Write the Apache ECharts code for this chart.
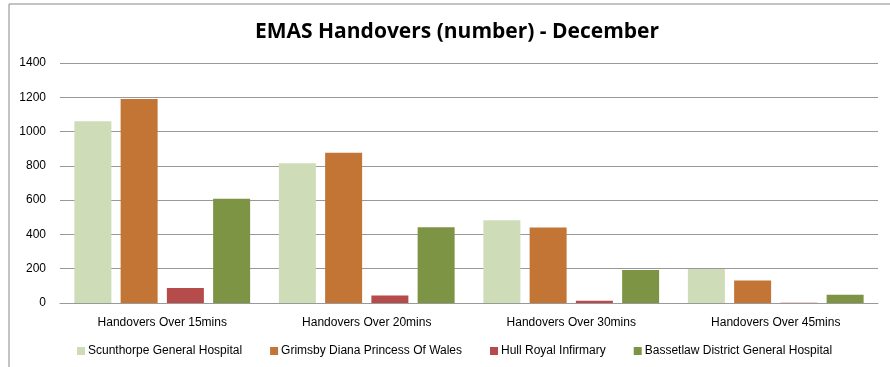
<!DOCTYPE html>
<html><head><meta charset="utf-8">
<script src="https://cdn.jsdelivr.net/npm/echarts@6/dist/echarts.min.js"></script>
<style>html,body{margin:0;padding:0;background:#fff}#c{width:890px;height:367px}</style>
</head><body><div id="c"></div>
<script>
const categories = ['Handovers Over 15mins','Handovers Over 20mins','Handovers Over 30mins','Handovers Over 45mins'];
const seriesNames = ['Scunthorpe General Hospital','Grimsby Diana Princess Of Wales','Hull Royal Infirmary','Bassetlaw District General Hospital'];
const scunthorpe = [1060, 815, 483, 199];
const grimsby = [1190, 877, 440, 131];
const hull = [87, 44, 13, 2];
const bassetlaw = [608, 442, 192, 48];
const yTicks = [0, 200, 400, 600, 800, 1000, 1200, 1400];
const colors = ['#CFDCB8', '#C27535', '#B54B4A', '#7C9443'];
const values = [scunthorpe, grimsby, hull, bassetlaw];

const chart = echarts.init(document.getElementById('c'));
const font = 'Liberation Sans';
chart.setOption({
  animation: false,
  title: {
    text: 'EMAS Handovers (number) - December',
    left: 452, top: 17, textAlign: 'center',
    textStyle: { fontFamily: 'Open Sans', fontWeight: 'bold', fontSize: 21, color: '#000' }
  },
  graphic: [{
    type: 'rect', shape: { x: 9, y: 4, width: 900, height: 400 },
    style: { fill: 'none', stroke: '#888', lineWidth: 1 }, silent: true
  }],
  legend: {
    bottom: 5, left: 72, itemWidth: 8, itemHeight: 8, itemGap: 28,
    icon: 'rect',
    textStyle: { fontFamily: font, fontSize: 12, color: '#000', padding: [0, 0, 0, -2] },
    data: seriesNames
  },
  grid: { left: 60, right: 12, top: 63, bottom: 64, containLabel: false },
  xAxis: {
    type: 'category', data: categories,
    axisLine: { lineStyle: { color: '#999' } },
    axisTick: { show: false },
    axisLabel: { fontFamily: font, fontSize: 12, color: '#000', margin: 14 }
  },
  yAxis: {
    type: 'value', min: yTicks[0], max: yTicks[yTicks.length - 1], interval: 200,
    axisLine: { show: false }, axisTick: { show: false },
    splitLine: { lineStyle: { color: '#999', width: 1 } },
    axisLabel: { fontFamily: font, fontSize: 12, color: '#000', margin: 14, formatter: v => String(v) }
  },
  series: seriesNames.map((n, i) => ({
    name: n, type: 'bar', data: values[i],
    barWidth: 37, barGap: '25%',
    itemStyle: { color: colors[i] }
  }))
});
</script></body></html>
